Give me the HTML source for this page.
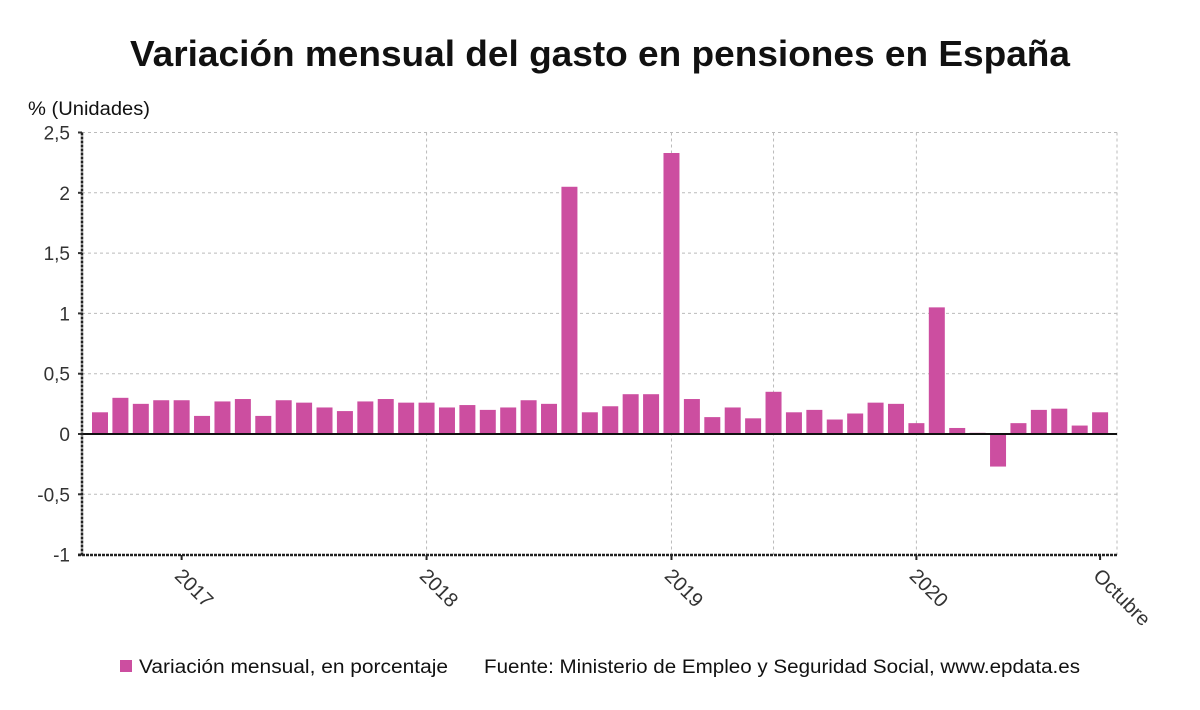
<!DOCTYPE html>
<html><head><meta charset="utf-8"><style>
body{margin:0;background:#fff;font-family:"Liberation Sans","DejaVu Sans",sans-serif;}
</style></head><body>
<svg width="1200" height="705" viewBox="0 0 1200 705" xmlns="http://www.w3.org/2000/svg">
<text x="130" y="66" textLength="940" lengthAdjust="spacingAndGlyphs" font-size="36" font-weight="bold" fill="#111">Variación mensual del gasto en pensiones en España</text>
<text x="28" y="115" textLength="122" lengthAdjust="spacingAndGlyphs" font-size="19" fill="#111">% (Unidades)</text>
<g id="grid"></g>
<g id="bars"></g>
<g id="axes"></g>
<g>
<rect x="120" y="660" width="12" height="12" fill="#cc4ea0"/>
<text x="139" y="673" textLength="309" lengthAdjust="spacingAndGlyphs" font-size="19" fill="#111">Variación mensual, en porcentaje</text>
<text x="484" y="673" textLength="596" lengthAdjust="spacingAndGlyphs" font-size="19" fill="#111">Fuente: Ministerio de Empleo y Seguridad Social, www.epdata.es</text>
</g>
</svg>
<script>
const values = [0.18,0.30,0.25,0.28,0.28,0.15,0.27,0.29,0.15,0.28,0.26,0.22,0.19,0.27,0.29,0.26,0.26,0.22,0.24,0.20,0.22,0.28,0.25,2.05,0.18,0.23,0.33,0.33,2.33,0.29,0.14,0.22,0.13,0.35,0.18,0.20,0.12,0.17,0.26,0.25,0.09,1.05,0.05,0.01,-0.27,0.09,0.20,0.21,0.07,0.18];
const yTicks = [2.5,2,1.5,1,0.5,0,-0.5,-1];
const yTickLabels = ["2,5","2","1,5","1","0,5","0","-0,5","-1"];
const xTickIdx = [4,16,28,40,49];
const xTickLabels = ["2017","2018","2019","2020","Octubre"];
const vGridIdx = [16,28,33,40];

const NS="http://www.w3.org/2000/svg";
const L=82,R=1117,T=132.5,B=555;
const y=v=>434+(0-v)*120.6;
const x=i=>100+i*20.41;
function mk(tag,attrs,parent){const e=document.createElementNS(NS,tag);for(const k in attrs)e.setAttribute(k,attrs[k]);parent.appendChild(e);return e;}
const grid=document.getElementById('grid'),bars=document.getElementById('bars'),axes=document.getElementById('axes');
yTicks.forEach((t,i)=>{
  if(t!==0&&t!==-1){const g=mk('line',{x1:L,x2:R,y1:y(t),y2:y(t),stroke:'#bbb','stroke-dasharray':'3,3'},grid);
  
  }
  const tx=mk('text',{x:L-12,y:y(t)+7,'text-anchor':'end','font-size':19,fill:'#333'},axes);
  tx.textContent=yTickLabels[i];
  
  
  mk('line',{x1:L-4,x2:L,y1:y(t),y2:y(t),stroke:'#333','stroke-width':2},axes);
});
vGridIdx.forEach(i=>{const g=mk('line',{x1:x(i),x2:x(i),y1:T,y2:B,stroke:'#bbb','stroke-dasharray':'3,3'},grid);
  
  });
mk('line',{x1:R,x2:R,y1:T,y2:B,stroke:'#bbb','stroke-dasharray':'3,3'},grid);
values.forEach((v,i)=>{
  const r=mk('rect',{x:x(i)-8,width:16,y:Math.min(y(v),y(0)),height:Math.abs(y(v)-y(0)),fill:'#cc4ea0'},bars);
  
  
});
mk('line',{x1:L,x2:R,y1:y(0),y2:y(0),stroke:'#111','stroke-width':2},axes);
mk('line',{x1:L,x2:L,y1:T,y2:B,stroke:'#222','stroke-width':2.5,'stroke-dasharray':'3,1'},axes);
mk('line',{x1:L-4,x2:R,y1:B,y2:B,stroke:'#222','stroke-width':2.5,'stroke-dasharray':'3,1'},axes);
xTickIdx.forEach((idx,i)=>{
  mk('line',{x1:x(idx),x2:x(idx),y1:B,y2:B+5,stroke:'#222','stroke-width':2},axes);
  const tx=mk('text',{x:x(idx)-8,y:B+22,'font-size':20,fill:'#333',transform:`rotate(45 ${x(idx)-8} ${B+22})`},axes);
  tx.textContent=xTickLabels[i];
  
  
});
</script>
</body></html>
